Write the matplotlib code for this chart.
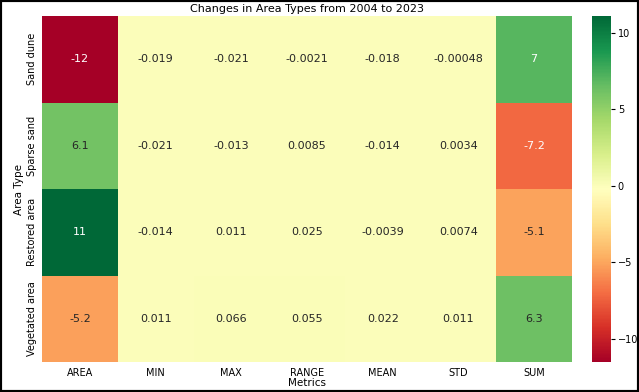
import matplotlib
matplotlib.use("Agg")
import matplotlib.pyplot as plt
import numpy as np
import pandas as pd
import seaborn as sns
from matplotlib.patches import Rectangle

area_types = ["Sand dune", "Sparse sand", "Restored area", "Vegetated area"]
metrics = ["AREA", "MIN", "MAX", "RANGE", "MEAN", "STD", "SUM"]

area = [-11.55, 6.1, 11.1, -5.2]
min_vals = [-0.019, -0.021, -0.014, 0.011]
max_vals = [-0.021, -0.013, 0.011, 0.066]
range_vals = [-0.0021, 0.0085, 0.025, 0.055]
mean_vals = [-0.018, -0.014, -0.0039, 0.022]
std_vals = [-0.00048, 0.0034, 0.0074, 0.011]
sum_vals = [6.97, -7.2, -5.1, 6.3]

df = pd.DataFrame(
    np.column_stack([area, min_vals, max_vals, range_vals, mean_vals, std_vals, sum_vals]),
    index=area_types, columns=metrics,
)

fig = plt.figure(figsize=(6.39, 3.92), dpi=100)
ax = fig.add_axes([0.066, 0.076, 0.829, 0.883])
cax = fig.add_axes([0.926, 0.076, 0.030, 0.883])

sns.heatmap(df, ax=ax, cbar_ax=cax, cmap="RdYlGn", annot=True, fmt=".2g",
            annot_kws={"fontsize": 8})

ax.set_title("Changes in Area Types from 2004 to 2023", fontsize=8, pad=3)
ax.set_xlabel("Metrics", fontsize=7.5, labelpad=0)
ax.set_ylabel("Area Type", fontsize=7.5, labelpad=2)
ax.tick_params(axis="x", labelsize=7, length=0, pad=4)
ax.tick_params(axis="y", labelsize=7, length=0, pad=4)
plt.setp(ax.get_yticklabels(), rotation=90, va="center")
plt.setp(ax.get_xticklabels(), rotation=0)

cax.tick_params(labelsize=7, length=3, pad=2)
cax.set_yticks([-10, -5, 0, 5, 10])

fig.patches.append(Rectangle((0, 0), 1, 1, transform=fig.transFigure,
                             fill=False, edgecolor="black", linewidth=3))

fig.savefig("out.png", dpi=100)
